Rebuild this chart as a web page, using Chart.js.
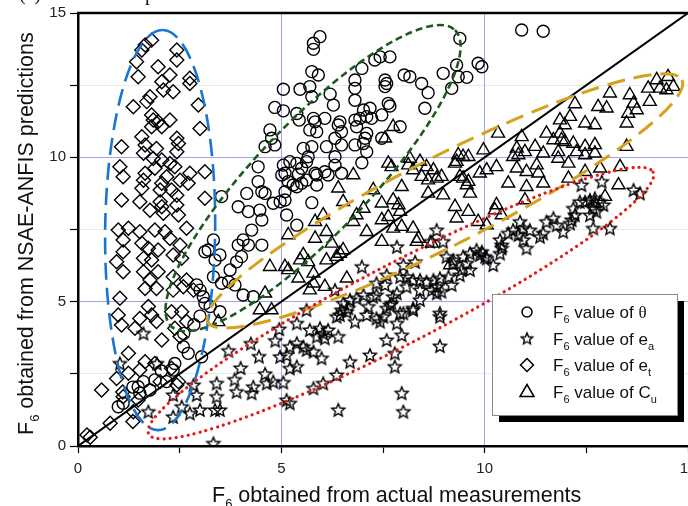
<!DOCTYPE html>
<html>
<head>
<meta charset="utf-8">
<script src="https://cdn.jsdelivr.net/npm/chart.js@4.4.0/dist/chart.umd.min.js"></script>
<style>
    html, body { margin: 0; padding: 0; background: #fff; overflow: hidden; }
    #div_chart { width: 688px; height: 506px; overflow: hidden; }
</style>
</head>
<body>
<div id="div_chart"><canvas id="myChart" width="720" height="506"></canvas></div>
<script>
// F6 of theta (circles)
const thetaPts = [
    [5.95,14.18],[5.79,13.95],[5.79,13.74],[5.75,12.97],[5.91,12.85],[5.05,12.36],[5.46,12.36],[5.70,12.45],[5.75,12.10],[6.20,12.19],
    [6.28,11.81],[4.84,11.73],[5.05,11.61],[5.38,11.52],[5.44,11.29],[5.79,11.35],[6.07,11.35],[5.83,11.23],[5.70,10.95],[5.87,10.89],
    [6.11,10.37],[6.44,11.23],[6.48,10.89],[6.40,11.12],[6.32,10.66],[6.48,10.43],[6.81,11.29],[6.85,11.06],[6.93,11.35],[7.02,11.64],
    [7.18,11.70],[7.10,11.41],[7.22,11.35],[6.81,11.98],[6.81,12.39],[6.81,12.68],[6.98,13.08],[7.30,13.37],[7.43,13.48],[7.67,13.48],
    [7.47,11.47],[7.10,10.83],[7.06,10.66],[7.02,10.48],[6.81,10.43],[7.10,10.19],[6.98,9.81],[7.47,10.66],[7.55,12.68],[7.59,12.56],
    [7.55,12.45],[7.63,11.87],[7.67,11.78],[8.02,12.85],[8.16,12.79],[8.45,12.56],[8.61,12.24],[8.53,11.70],[7.92,11.06],[8.98,12.91],
    [9.19,12.39],[9.35,12.79],[9.56,12.77],[9.31,13.20],[9.39,14.12],[9.84,13.26],[9.93,13.14],[10.91,14.41],[11.44,14.37],[4.72,10.95],
    [4.76,10.66],[4.84,10.43],[4.60,10.37],[4.43,9.67],[5.05,9.73],[5.21,9.85],[5.38,9.79],[5.62,9.85],[5.66,10.02],[6.32,10.02],
    [6.32,9.73],[5.01,9.39],[5.50,9.62],[5.42,9.42],[5.83,9.45],[6.07,9.50],[6.15,9.39],[6.48,9.45],[5.54,10.31],[5.75,10.37],
    [4.43,9.16],[4.52,8.81],[4.60,8.75],[4.15,8.75],[3.94,8.29],[4.19,8.12],[4.47,8.17],[4.52,7.83],[4.27,7.48],[3.53,8.64],
    [4.80,8.41],[4.97,8.46],[5.09,8.52],[5.13,8.00],[5.38,7.65],[5.09,9.45],[5.17,9.16],[5.29,9.04],[5.38,8.98],[5.50,9.10],
    [5.62,9.21],[5.87,9.39],[5.87,9.04],[5.75,8.43],[5.09,8.81],[3.94,6.96],[4.06,7.14],[4.19,6.96],[4.52,6.96],[4.02,6.56],
    [3.90,6.38],[3.74,6.10],[3.70,5.69],[3.86,5.58],[4.06,5.23],[4.31,5.17],[3.20,6.79],[3.12,6.73],[3.49,6.62],[3.33,5.86],
    [3.53,5.64],[3.37,6.44],[3.08,5.17],[3.25,4.83],[3.49,4.65],[3.33,7.14],[2.92,5.58],[3.00,5.40],[3.12,4.94],[2.59,3.44],
    [2.71,3.21],[3.04,3.09],[2.38,2.86],[2.34,2.63],[2.18,2.23],[1.89,2.29],[1.61,2.23],[1.48,2.05],[1.52,1.83],[1.77,1.94],
    [1.11,1.48],[0.99,1.36],[1.35,2.04],[2.05,2.60],[2.60,3.90],[2.85,4.20],[3.00,4.50]
];
// F6 of ea (stars)
const eaPts = [
    [7.84,6.90],[6.98,6.21],[8.00,6.27],[8.29,6.38],[7.59,5.92],[7.34,5.64],[6.32,5.40],[8.08,5.86],[8.24,5.75],[8.41,5.75],
    [8.57,5.69],[8.74,5.75],[8.90,5.81],[8.82,5.52],[8.70,5.40],[8.82,5.29],[7.84,5.29],[7.75,5.17],[7.67,4.88],[7.59,4.77],
    [7.34,5.23],[7.02,5.23],[6.85,5.12],[6.69,5.06],[6.52,4.94],[6.48,4.71],[6.44,4.54],[6.61,4.65],[7.14,4.83],[7.10,4.54],
    [6.81,4.31],[7.34,4.42],[7.43,4.31],[7.84,4.25],[8.00,4.60],[8.24,4.71],[8.41,5.06],[8.90,4.48],[8.90,3.46],[7.96,3.84],
    [7.59,3.67],[7.79,3.21],[7.79,2.75],[7.96,1.83],[8.00,1.19],[6.40,1.25],[7.18,3.15],[6.69,2.92],[6.36,2.46],[6.03,2.17],
    [5.79,2.00],[5.13,1.59],[5.21,1.48],[5.99,3.04],[5.38,2.75],[5.21,2.69],[4.97,3.09],[5.13,3.15],[5.21,3.44],[5.38,3.56],
    [5.54,3.44],[5.62,3.33],[5.79,3.27],[5.70,4.02],[5.62,4.71],[5.38,4.25],[5.95,4.08],[6.03,3.90],[5.87,3.79],[6.07,3.73],
    [6.15,4.02],[6.40,3.79],[9.64,6.67],[9.88,6.62],[10.05,6.50],[10.21,6.27],[10.38,6.67],[10.42,6.96],[9.43,6.10],[9.23,6.33],
    [9.06,6.56],[9.80,6.79],[12.38,9.04],[12.88,9.16],[13.66,8.87],[13.82,8.75],[12.34,8.46],[12.47,8.46],[12.59,8.52],[12.71,8.58],
    [12.84,8.46],[12.92,8.35],[12.67,8.23],[12.59,8.00],[12.75,8.12],[12.18,8.23],[12.22,8.00],[12.14,7.83],[11.93,7.42],[12.10,7.71],
    [12.67,7.54],[13.08,7.54],[11.69,7.89],[11.52,7.77],[11.77,7.65],[11.44,7.37],[11.36,7.25],[11.11,7.48],[10.95,7.54],[10.87,7.77],
    [10.83,7.31],[10.70,7.48],[10.58,7.37],[10.95,7.14],[11.03,6.85],[10.38,7.14],[10.42,6.85],[10.01,6.56],[9.93,6.73],[2.34,1.77],
    [2.55,1.36],[2.92,1.77],[3.00,1.25],[3.41,1.71],[3.37,1.25],[3.49,1.25],[3.90,1.88],[4.27,1.83],[4.31,2.05],[4.64,2.17],
    [4.80,2.23],[1.73,1.19],[2.34,1.01],[2.75,1.13],[3.33,0.09],[2.84,2.11],[3.41,2.17],[8.82,7.48],[8.66,7.08],[8.98,7.08],
    [7.55,5.58],[7.92,5.86],[8.08,5.52],[8.41,5.40],[8.94,5.35],[8.90,4.60],[8.24,4.77],[7.92,4.60],[7.71,4.94],[7.51,4.48],
    [7.26,5.17],[6.65,4.77],[6.36,4.48],[9.23,6.44],[9.47,6.56],[9.56,6.33],[9.64,6.10],[9.11,5.86],[9.39,5.92],[9.19,5.58],
    [1.03,2.86],[1.61,3.90],[1.94,2.86],[3.70,3.30],[4.00,2.70],[4.45,3.10],[4.60,2.50],[4.25,3.55],[4.85,3.65],[4.95,4.05],
    [3.85,2.30],[5.05,2.20]
];
// F6 of et (diamonds)
const etPts = [
    [1.81,14.06],[1.65,13.89],[1.57,13.72],[1.44,13.31],[1.48,12.79],[1.97,13.14],[2.26,12.85],[2.43,13.72],[2.43,13.37],[2.75,12.74],
    [2.75,12.56],[2.06,12.62],[2.10,12.33],[2.34,12.27],[1.77,12.10],[1.69,11.93],[1.36,11.75],[1.81,11.47],[1.85,11.29],[1.97,11.23],
    [2.26,11.29],[2.06,11.06],[1.81,11.06],[2.96,11.81],[3.00,11.00],[1.57,10.71],[1.65,10.43],[1.93,10.31],[1.61,10.14],[2.43,10.66],
    [2.47,10.48],[2.43,10.19],[1.07,10.37],[1.03,9.67],[1.11,9.33],[1.85,9.96],[2.06,9.91],[2.26,9.79],[2.38,9.67],[1.89,9.62],
    [1.65,9.45],[1.61,9.21],[2.18,9.33],[2.51,9.21],[2.75,9.45],[2.71,9.10],[3.12,9.50],[2.06,9.10],[2.02,8.87],[1.57,8.93],
    [2.30,8.87],[1.07,8.52],[1.52,8.46],[2.02,8.46],[2.06,8.29],[2.43,8.69],[2.43,8.35],[3.12,8.58],[1.77,8.17],[2.10,8.06],
    [2.47,8.00],[0.99,7.48],[1.24,7.54],[1.52,7.42],[1.11,7.14],[1.89,7.48],[2.14,7.42],[2.67,7.54],[2.26,7.19],[1.11,6.73],
    [1.57,7.02],[1.73,6.85],[1.97,6.79],[2.51,6.96],[0.95,6.38],[1.11,6.04],[1.61,6.50],[1.81,6.44],[2.34,6.62],[2.55,6.50],
    [1.61,6.04],[1.97,6.04],[1.77,5.75],[2.34,5.86],[1.65,5.46],[1.93,5.46],[2.59,5.52],[2.67,5.75],[2.84,5.40],[2.34,5.40],
    [1.03,5.12],[1.73,4.83],[0.99,4.54],[1.52,4.42],[1.81,4.54],[1.93,4.31],[2.30,4.65],[2.55,4.65],[2.67,4.31],[1.07,4.19],
    [1.40,4.08],[2.06,3.67],[2.51,3.79],[2.38,4.08],[1.24,3.21],[1.65,2.92],[1.52,2.63],[1.89,2.86],[2.30,2.69],[0.95,2.34],
    [1.24,2.52],[0.58,1.94],[1.11,1.71],[1.48,1.59],[2.02,2.23],[2.47,2.23],[1.36,1.19],[0.79,0.79],[0.22,0.38],[0.30,0.30],
    [1.35,0.85],[1.10,1.87],[2.43,2.11]
];
// F6 of Cu (triangles)
const cuPts = [
    [6.77,9.39],[6.40,8.93],[6.52,8.46],[7.02,8.23],[7.26,8.87],[7.47,8.41],[7.75,8.52],[7.88,8.35],[7.96,8.98],[7.92,8.12],
    [7.63,7.94],[7.47,7.83],[7.75,7.54],[7.96,7.60],[8.24,7.54],[8.37,7.19],[7.47,7.08],[7.10,7.42],[6.85,8.00],[6.77,7.77],
    [6.03,8.00],[5.83,7.77],[6.11,7.42],[5.83,7.19],[6.24,7.02],[6.52,6.79],[6.36,6.56],[6.11,6.44],[5.54,6.62],[5.46,6.44],
    [5.66,6.38],[5.79,5.98],[5.42,5.81],[5.79,5.64],[6.07,5.52],[6.61,5.81],[5.17,7.31],[5.17,6.10],[4.72,6.21],[4.60,5.29],
    [4.76,4.71],[4.47,4.71],[8.24,9.56],[8.74,9.56],[8.82,9.27],[8.61,8.75],[8.98,8.69],[9.27,9.79],[9.47,9.27],[9.56,9.04],
    [9.64,8.75],[9.60,8.12],[9.31,7.89],[9.84,7.77],[9.27,8.29],[7.75,11.06],[7.55,10.66],[7.63,9.79],[7.71,9.67],[8.16,9.96],
    [8.41,9.85],[8.57,9.67],[9.31,9.85],[9.47,10.02],[9.60,10.02],[8.12,9.73],[8.45,9.33],[8.61,9.21],[8.94,9.33],[9.35,10.08],
    [9.39,9.33],[9.60,9.16],[9.97,10.25],[9.88,9.45],[10.05,9.56],[10.29,9.67],[10.33,10.83],[10.91,10.71],[10.79,10.31],[10.83,10.08],
    [10.99,10.19],[11.24,10.37],[11.44,10.14],[10.79,9.62],[11.03,9.50],[11.28,9.73],[11.32,9.45],[10.58,9.10],[11.03,8.98],[11.44,9.10],
    [11.52,10.83],[11.85,11.29],[11.97,11.12],[12.10,11.41],[11.85,10.83],[11.89,10.60],[12.18,10.48],[12.26,10.19],[12.47,10.37],[12.71,10.43],
    [12.47,10.08],[12.71,10.14],[11.81,10.19],[11.81,9.96],[12.06,9.79],[12.22,11.85],[12.47,11.18],[12.71,11.12],[12.79,11.75],[13.00,11.70],
    [13.08,12.22],[13.49,11.18],[13.53,11.52],[13.57,12.16],[13.66,11.87],[13.74,11.64],[14.06,11.93],[13.49,10.37],[14.02,12.39],[14.23,12.68],
    [14.31,12.39],[14.47,12.33],[14.51,12.79],[14.64,12.45],[12.47,9.50],[12.84,9.62],[13.33,9.67],[13.29,9.04],[12.06,9.27],[11.69,10.60],
    [10.70,10.02],[11.97,10.54],[12.96,8.64],[12.71,8.41],[10.29,8.35],[10.25,8.17],[10.42,8.00],[10.05,7.65],[10.99,8.52],[5.09,6.21],
    [6.44,6.67],[5.70,5.40],[8.33,7.08],[8.70,7.02],[9.15,6.27],[3.45,4.30]
];
// 1:1 line
const linePts = [[0, 0], [15, 15]];

const axisMin = 0;
const axisMax = 15;
const tickStep = 2.5;
const tickLabels = [0, 5, 10, 15];
const gridBlue = [5, 10];

const legendItems = [
    { style: 'circle', sym: '\u03b8', sub: '' },
    { style: 'star', sym: 'e', sub: 'a' },
    { style: 'diamond', sym: 'e', sub: 't' },
    { style: 'triangle', sym: 'C', sub: 'u' }
];

// hand-drawn group outlines (center, end of major axis in data units; half width in px)
const ellipses = [
    { c: [2.02, 7.48], end: [2.08, 14.41], b: 55, color: '#1a75cf', width: 2.6, dash: [17, 8], cap: 'butt' },
    { c: [5.78, 9.28], end: [9.27, 14.41], b: 56, color: '#1d5a1d', width: 2.6, dash: [7, 4], cap: 'butt' },
    { c: [9.02, 8.49], end: [14.85, 12.68], b: 44, color: '#d6a11c', width: 3, dash: [18, 9], cap: 'butt' },
    { c: [7.94, 4.95], end: [14.14, 9.49], b: 40, color: '#e61919', width: 3.2, dash: [0.1, 6], cap: 'round' }
];

const FONT = "'Liberation Sans', Arial, sans-serif";

function makeStar(r) {
    const c = document.createElement('canvas');
    const s = Math.ceil(r * 2 + 4);
    c.width = s; c.height = s;
    const g = c.getContext('2d');
    g.beginPath();
    for (let i = 0; i < 10; i++) {
        const ang = -Math.PI / 2 + i * Math.PI / 5;
        const rad = (i % 2) ? r * 0.45 : r;
        const px = s / 2 + rad * Math.cos(ang);
        const py = s / 2 + 0.5 + rad * Math.sin(ang);
        if (i === 0) g.moveTo(px, py); else g.lineTo(px, py);
    }
    g.closePath();
    g.lineWidth = 1.4;
    g.lineJoin = 'miter';
    g.strokeStyle = '#000';
    g.stroke();
    return c;
}
const starImg = makeStar(6.8);
const starSmall = makeStar(6);

function toXY(arr) {
    return arr.map(function (p) { return { x: p[0], y: p[1] }; });
}

// text with subscripts: parts = [[text, isSub, font]]
function drawParts(ctx, parts, x, y, size) {
    let cx = x;
    parts.forEach(function (p) {
        const sub = p[1];
        const fam = p[2] || FONT;
        ctx.font = (sub ? Math.round(size * 0.62) : size) + 'px ' + fam;
        ctx.fillText(p[0], cx, y + (sub ? size * 0.3 : 0));
        cx += ctx.measureText(p[0]).width;
    });
}

function drawMarker(ctx, style, x, y) {
    ctx.save();
    ctx.strokeStyle = '#000';
    ctx.lineWidth = 1.5;
    ctx.beginPath();
    if (style === 'circle') {
        ctx.arc(x, y, 5, 0, Math.PI * 2);
        ctx.stroke();
    } else if (style === 'diamond') {
        ctx.moveTo(x, y - 6.5); ctx.lineTo(x + 6.5, y); ctx.lineTo(x, y + 6.5); ctx.lineTo(x - 6.5, y); ctx.closePath();
        ctx.stroke();
    } else if (style === 'triangle') {
        ctx.moveTo(x, y - 7); ctx.lineTo(x + 7, y + 5); ctx.lineTo(x - 7, y + 5); ctx.closePath();
        ctx.stroke();
    } else {
        ctx.drawImage(starSmall, x - starSmall.width / 2, y - starSmall.height / 2);
    }
    ctx.restore();
}

const extras = {
    id: 'extras',
    afterDatasetsDraw: function (chart) {
        const ctx = chart.ctx;
        const a = chart.chartArea;
        const xs = chart.scales.x, ys = chart.scales.y;

        // group outlines
        ellipses.forEach(function (e) {
            const cx = xs.getPixelForValue(e.c[0]), cy = ys.getPixelForValue(e.c[1]);
            const ex = xs.getPixelForValue(e.end[0]), ey = ys.getPixelForValue(e.end[1]);
            const rot = Math.atan2(ey - cy, ex - cx);
            const ra = Math.hypot(ex - cx, ey - cy);
            ctx.save();
            ctx.beginPath();
            ctx.ellipse(cx, cy, ra, e.b, rot, 0, Math.PI * 2);
            ctx.strokeStyle = e.color;
            ctx.lineWidth = e.width;
            ctx.lineCap = e.cap;
            ctx.setLineDash(e.dash);
            ctx.stroke();
            ctx.restore();
        });

        // top frame line
        ctx.save();
        ctx.strokeStyle = '#000';
        ctx.lineWidth = 2.5;
        ctx.beginPath();
        ctx.moveTo(a.left - 1, a.top);
        ctx.lineTo(a.right + 2, a.top);
        ctx.stroke();
        ctx.restore();

        // legend box with shadow
        const L = 492, T = 294, W = 185, H = 121;
        ctx.save();
        ctx.fillStyle = '#000';
        ctx.fillRect(L + 7, T + 7, W, H);
        ctx.fillStyle = '#fff';
        ctx.fillRect(L, T, W, H);
        ctx.strokeStyle = '#8a8a8a';
        ctx.lineWidth = 1;
        ctx.strokeRect(L + 0.5, T + 0.5, W, H);
        ctx.fillStyle = '#111';
        ctx.textBaseline = 'alphabetic';
        legendItems.forEach(function (it, i) {
            const cy = 312 + i * 26.5;
            drawMarker(ctx, it.style, 527, cy);
            const parts = [['F', false], ['6', true], [' value of ', false]];
            if (it.sub) {
                parts.push([it.sym, false]);
                parts.push([it.sub, true]);
            } else {
                parts.push([it.sym, false, "'Liberation Serif', 'Times New Roman', serif"]);
            }
            drawParts(ctx, parts, 553, cy + 6, 17);
        });
        ctx.restore();
    },
    afterDraw: function (chart) {
        const ctx = chart.ctx;
        ctx.save();
        ctx.fillStyle = '#111';
        ctx.textBaseline = 'alphabetic';
        // x axis title
        drawParts(ctx, [['F', false], ['6', true], [' obtained from actual measurements', false]], 212, 502, 21.5);
        // y axis title
        ctx.translate(33, 435);
        ctx.rotate(-Math.PI / 2);
        drawParts(ctx, [['F', false], ['6', true], [' obtained from NSAE-ANFIS predictions', false]], 0, 0, 21.5);
        ctx.restore();
        // cut-off caption at the very top
        ctx.save();
        ctx.fillStyle = '#111';
        ctx.font = "20px 'Liberation Serif', 'Times New Roman', serif";
        ctx.fillText('(a)', 19, 0);
        ctx.fillText('plot', 145, 0);
        ctx.restore();
    }
};

function tickLabel(v) {
    return tickLabels.indexOf(v) >= 0 ? String(v) : '';
}

function gridColor(horizontal) {
    return function (c) {
        const v = c.tick.value;
        if (gridBlue.indexOf(v) >= 0) return '#a4a4e4';
        if (horizontal && v > axisMin && v < axisMax) return 'rgba(170,210,170,0.35)';
        return 'rgba(0,0,0,0)';
    };
}

const pointBase = {
    showLine: false,
    borderColor: '#000',
    backgroundColor: 'rgba(0,0,0,0)',
    borderWidth: 1.4,
    pointHoverRadius: 0
};

const data = {
    datasets: [
        Object.assign({ label: 'theta', data: toXY(thetaPts), pointStyle: 'circle', pointRadius: 6 }, pointBase),
        Object.assign({ label: 'ea', data: toXY(eaPts), pointStyle: starImg, pointRadius: 7 }, pointBase),
        Object.assign({ label: 'et', data: toXY(etPts), pointStyle: 'rectRot', pointRadius: 7 }, pointBase),
        Object.assign({ label: 'Cu', data: toXY(cuPts), pointStyle: 'triangle', pointRadius: 7.5 }, pointBase),
        {
            label: '1:1', type: 'line', data: toXY(linePts),
            borderColor: '#000', borderWidth: 2, pointRadius: 0, fill: false
        }
    ]
};

const config = {
    type: 'scatter',
    data: data,
    plugins: [extras],
    options: {
        responsive: false,
        animation: false,
        events: [],
        layout: { padding: { top: 13, right: 32, left: 0, bottom: 0 } },
        plugins: {
            legend: { display: false },
            tooltip: { enabled: false }
        },
        scales: {
            x: {
                type: 'linear',
                min: axisMin, max: axisMax,
                afterFit: function (s) { s.height = 60; },
                ticks: {
                    stepSize: tickStep, autoSkip: false, maxRotation: 0,
                    color: '#222', padding: 7,
                    font: { family: FONT, size: 15 },
                    callback: tickLabel
                },
                grid: {
                    color: gridColor(false), lineWidth: 1,
                    tickColor: '#000', tickLength: 7, tickWidth: 1.2
                },
                border: { color: '#000', width: 2.5 }
            },
            y: {
                type: 'linear',
                min: axisMin, max: axisMax,
                afterFit: function (s) { s.width = 78; },
                ticks: {
                    stepSize: tickStep, autoSkip: false,
                    color: '#222', padding: 4,
                    font: { family: FONT, size: 15 },
                    callback: tickLabel
                },
                grid: {
                    color: gridColor(true), lineWidth: 1,
                    tickColor: '#000', tickLength: 8, tickWidth: 1.2
                },
                border: { color: '#000', width: 2.5 }
            }
        }
    }
};

const myChart = new Chart(document.getElementById('myChart'), config);
</script>
</body>
</html>
